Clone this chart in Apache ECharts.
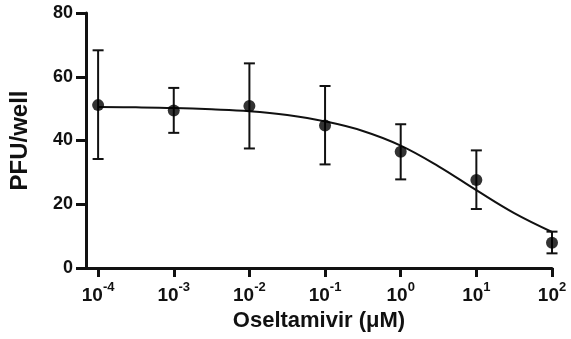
<!DOCTYPE html>
<html>
<head>
<meta charset="utf-8">
<script src="https://cdn.jsdelivr.net/npm/echarts@6/dist/echarts.min.js"></script>
<style>
  html, body {margin: 0; padding: 0; background: #fff;}
  #chart {width: 571px; height: 339px;}
</style>
</head>
<body>
<div id="chart"></div>
<script>
// x values are log10 of the concentration (µM)
const logConc = [-4, -3, -2, -1, 0, 1, 2];
const meanPFU = [51.1, 49.4, 50.8, 44.7, 36.5, 27.6, 7.9];
const errHigh = [68.3, 56.5, 64.2, 57.1, 45.1, 36.9, 11.4];
const errLow = [34.2, 42.4, 37.5, 32.5, 27.8, 18.5, 4.6];

// fitted curve, every half decade
const curveLogX = [-4, -3.5, -3, -2.5, -2, -1.5, -1, -0.5, 0, 0.5, 1, 1.5, 2];
const curvePFU = [50.5, 50.4, 50.2, 49.8, 49.2, 48.0, 46.0, 43.0, 38.4, 31.9, 24.4, 17.2, 11.3];

const xTickExps = [-4, -3, -2, -1, 0, 1, 2];
const yTicks = [0, 20, 40, 60, 80];

const FONT = "'Liberation Sans', Arial, sans-serif";
const chart = echarts.init(document.getElementById('chart'), null, {renderer: 'canvas'});

chart.setOption({
  animation: false,
  backgroundColor: '#fff',
  grid: {left: 86, right: 19, top: 13, bottom: 71, containLabel: false},
  xAxis: {
    type: 'value',
    min: -4.16,
    max: 2,
    name: 'Oseltamivir (μM)',
    nameLocation: 'middle',
    nameGap: 42,
    nameTextStyle: {fontFamily: FONT, fontWeight: 'bold', fontSize: 22, color: '#111'},
    axisLine: {onZero: false, lineStyle: {color: '#111', width: 3}},
    axisTick: {length: 9, lineStyle: {color: '#111', width: 3}, customValues: xTickExps},
    splitLine: {show: false},
    axisLabel: {
      customValues: xTickExps,
      margin: 13,
      color: '#111',
      formatter: v => '{b|10}{s|' + v + '}',
      rich: {
        b: {fontFamily: FONT, fontWeight: 'bold', fontSize: 19, lineHeight: 24, verticalAlign: 'bottom', color: '#111'},
        s: {fontFamily: FONT, fontWeight: 'bold', fontSize: 13, lineHeight: 13, verticalAlign: 'top', color: '#111'}
      }
    }
  },
  yAxis: {
    type: 'value',
    min: 0,
    max: 80,
    interval: 20,
    name: 'PFU/well',
    nameLocation: 'middle',
    nameGap: 54,
    nameTextStyle: {fontFamily: FONT, fontWeight: 'bold', fontSize: 24, color: '#111'},
    axisLine: {show: true, onZero: false, lineStyle: {color: '#111', width: 3}},
    axisTick: {show: true, inside: false, length: 10, customValues: yTicks, lineStyle: {color: '#111', width: 3}},
    splitLine: {show: false},
    axisLabel: {
      customValues: yTicks,
      margin: 13,
      fontFamily: FONT,
      fontWeight: 'bold',
      fontSize: 18,
      color: '#111'
    }
  },
  series: [
    {
      type: 'line',
      data: curveLogX.map((x, i) => [x, curvePFU[i]]),
      smooth: 0.4,
      showSymbol: false,
      lineStyle: {color: '#111', width: 2},
      z: 2
    },
    {
      type: 'custom',
      data: logConc.map((x, i) => [x, errLow[i], errHigh[i]]),
      renderItem: (params, api) => {
        const x = api.value(0);
        const lo = api.coord([x, api.value(1)]);
        const hi = api.coord([x, api.value(2)]);
        const w = 5.5;
        const style = {stroke: '#111', lineWidth: 2};
        return {
          type: 'group',
          children: [
            {type: 'line', shape: {x1: lo[0], y1: lo[1], x2: hi[0], y2: hi[1]}, style},
            {type: 'line', shape: {x1: hi[0] - w, y1: hi[1], x2: hi[0] + w, y2: hi[1]}, style},
            {type: 'line', shape: {x1: lo[0] - w, y1: lo[1], x2: lo[0] + w, y2: lo[1]}, style}
          ]
        };
      },
      z: 3
    },
    {
      type: 'scatter',
      data: logConc.map((x, i) => [x, meanPFU[i]]),
      symbol: 'circle',
      symbolSize: 12,
      itemStyle: {color: '#000'},
      z: 4
    }
  ]
});
</script>
</body>
</html>
